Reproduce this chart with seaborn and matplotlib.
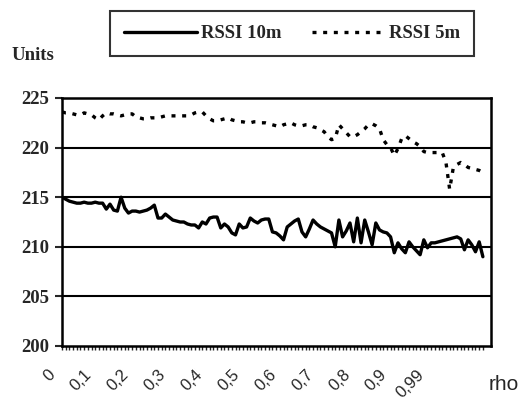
import numpy as np
import pandas as pd
import seaborn as sns
import matplotlib.pyplot as plt
from matplotlib.transforms import ScaledTranslation

# RSSI readings per sample
rssi_10m = [215.0, 214.8, 214.6, 214.5, 214.4, 214.4, 214.5, 214.4, 214.4, 214.5,
            214.4, 214.4, 213.8, 214.3, 213.7, 213.6, 215.0, 213.9, 213.4, 213.6,
            213.6, 213.5, 213.6, 213.7, 213.9, 214.2, 212.9, 212.9, 213.3, 213.0,
            212.7, 212.6, 212.5, 212.5, 212.3, 212.2, 212.2, 211.9, 212.5, 212.3,
            212.9, 213.0, 213.0, 211.9, 212.3, 212.0, 211.4, 211.2, 212.3, 211.9,
            212.0, 212.9, 212.6, 212.4, 212.7, 212.8, 212.8, 211.5, 211.4, 211.1,
            210.7, 212.0, 212.3, 212.6, 212.8, 211.5, 211.0, 211.8, 212.7, 212.3,
            212.0, 211.8, 211.6, 211.4, 210.0, 212.7, 211.0, 211.6, 212.4, 210.5,
            212.9, 210.4, 212.7, 211.5, 210.2, 212.4, 211.7, 211.5, 211.4, 211.0,
            209.4, 210.4, 209.8, 209.4, 210.5, 210.0, 209.6, 209.2, 210.7, 209.9,
            210.4, 210.4, 210.5, 210.6, 210.7, 210.8, 210.9, 211.0, 210.8, 209.7,
            210.7, 210.2, 209.5, 210.5, 209.0]
rssi_5m = [223.6, 223.5, 223.5, 223.4, 223.3, 223.3, 223.5, 223.4, 223.3, 223.0,
           222.8, 223.2, 223.5, 223.4, 223.4, 223.3, 223.2, 223.3, 223.4, 223.4,
           223.1, 223.0, 222.9, 222.9, 223.0, 223.0, 223.0, 223.1, 223.2, 223.2,
           223.2, 223.2, 223.2, 223.2, 223.2, 223.3, 223.5, 223.6, 223.6, 223.2,
           222.9, 222.7, 222.7, 222.8, 222.9, 223.0, 222.8, 222.7, 222.6, 222.6,
           222.5, 222.5, 222.6, 222.6, 222.5, 222.5, 222.4, 222.3, 222.2, 222.1,
           222.3, 222.4, 222.5, 222.3, 222.2, 222.2, 222.3, 222.3, 222.1, 222.0,
           221.8, 221.6, 221.1, 220.8, 220.9, 222.3, 221.9, 221.5, 221.1, 221.1,
           221.3, 221.6, 221.9, 222.3, 222.4, 222.2, 221.9, 220.8, 220.3, 220.0,
           219.2, 219.9, 220.9, 221.2, 220.9, 220.6, 220.4, 220.1, 219.6, 219.5,
           219.5, 219.5, 219.5, 219.5, 218.5, 215.8, 218.0, 218.3, 218.5, 218.3,
           218.0, 217.9, 217.8, 217.7, 217.5]
sample = np.arange(len(rssi_10m))
rho_ticks = [0, 10, 20, 30, 40, 50, 60, 70, 80, 90, 100]
rho_labels = ["0", "0,1", "0,2", "0,3", "0,4", "0,5", "0,6", "0,7", "0,8", "0,9", "0,99"]

df = pd.DataFrame({"sample": sample, "RSSI 10m": rssi_10m, "RSSI 5m": rssi_5m})

sns.set_style("white")
plt.rcParams['font.family'] = ['Liberation Serif', 'DejaVu Serif']

fig = plt.figure(figsize=(5.19, 4.0), dpi=100)
ax = fig.add_axes([62/519, 1-346/400, 429/519, 248/400])

sns.lineplot(data=df, x="sample", y="RSSI 10m", ax=ax, color="black",
             linewidth=2.4, label="RSSI 10m")
sns.lineplot(data=df, x="sample", y="RSSI 5m", ax=ax, color="black",
             linewidth=2.4, linestyle=(0, (1.2, 2.0)), label="RSSI 5m")

ax.set_ylim(200, 225)
ax.set_xlim(0, 116.2)
ax.set_yticks([200, 205, 210, 215, 220, 225])
for yv in [205, 210, 215, 220]:
    ax.axhline(yv, color="black", linewidth=1.5, zorder=1)

for s in ax.spines.values():
    s.set_color("black")
    s.set_linewidth(1.8)

ax.set_xticks(rho_ticks)
ax.set_xticklabels(rho_labels, rotation=45, ha="right", va="center",
                   rotation_mode="anchor",
                   family=['Liberation Sans Narrow', 'Liberation Sans'], fontsize=12)
ax.set_xticks(sample, minor=True)
ax.tick_params(axis="x", which="both", direction="out", length=3, width=1,
               bottom=True, pad=16)
ax.tick_params(axis="y", direction="out", length=5, width=1.5, left=True, pad=4)
for lab in ax.get_yticklabels():
    lab.set_fontweight("bold")
    lab.set_fontsize(13.5)
offset = ScaledTranslation(-7/72, 0, fig.dpi_scale_trans)
for lab in ax.get_xticklabels():
    lab.set_transform(lab.get_transform() + offset)

ax.set_xlabel("")
ax.set_ylabel("")
ax.get_legend().remove()

fig.text(12/519, 1-55/400, "Units", fontsize=13.5, fontweight="bold", va="center")
fig.text(489/519, 1-385/400, "rho", fontsize=15,
         family=['Liberation Sans Narrow', 'Liberation Sans'], va="center")

handles, labels = ax.get_legend_handles_labels()
leg = fig.legend(handles, labels, loc="center", ncol=2, frameon=True,
                 bbox_to_anchor=(292/519, 1-33.5/400),
                 borderaxespad=0, fancybox=False,
                 handlelength=3.9, handletextpad=0.2, borderpad=0.75,
                 columnspacing=1.6,
                 prop={"weight": "bold", "size": 13.5})
leg.get_frame().set_edgecolor("black")
leg.get_frame().set_linewidth(1.5)

fig.savefig("out.png", dpi=100)
